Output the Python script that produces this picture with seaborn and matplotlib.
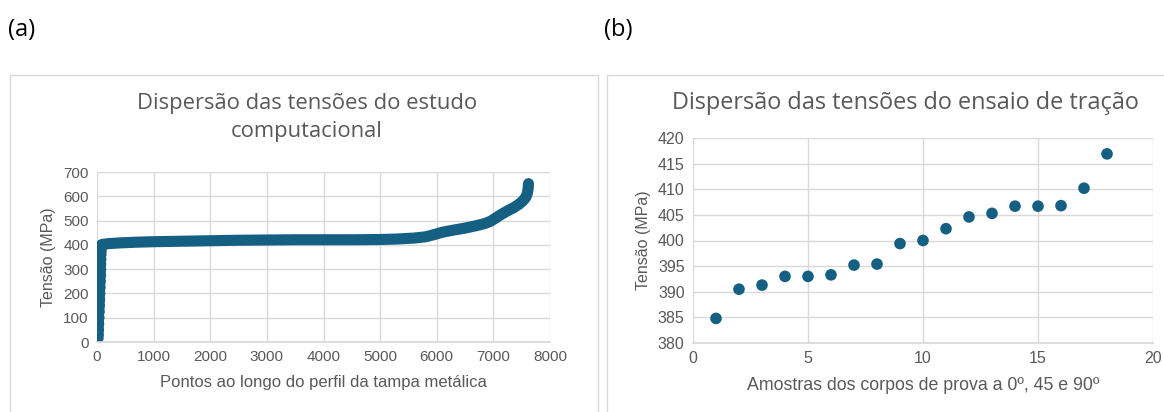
import numpy as np
import pandas as pd
import seaborn as sns
import matplotlib.pyplot as plt
from matplotlib.patches import Rectangle

# =====================================================
# dados
# =====================================================

# (a) estudo computacional: pontos ordenados ao longo do perfil
pontos = [10, 14, 18, 22, 26, 30, 34, 38, 42, 46, 50, 54, 56, 58, 60, 62, 64, 66,
          80, 100, 200, 400, 700, 1000, 1500, 2000, 2500, 3000, 3500, 4000,
          4500, 5000, 5300, 5600, 5800, 5950, 6100, 6300, 6500, 6700, 6850,
          6950, 7050, 7150, 7250, 7350, 7450, 7520, 7570, 7600, 7615, 7620]
tensao_comp = [15, 30, 50, 75, 100, 125, 150, 175, 200, 225, 250, 275, 300,
               320, 340, 360, 375, 390, 398, 402, 405, 408, 411, 413, 415,
               417, 419, 420, 421, 421, 421, 422, 424, 428, 433, 442, 452,
               461, 469, 479, 488, 497, 512, 527, 540, 552, 567, 581, 595,
               612, 635, 652]

# (b) ensaio de tração
amostras = list(range(1, 19))
tensao_ensaio = [384.8, 390.5, 391.3, 393.0, 393.0, 393.3, 395.2, 395.4, 399.4,
                 400.0, 402.3, 404.6, 405.3, 406.7, 406.7, 406.8, 410.2, 416.9]

COR = "#156082"
CINZA = "#595959"
GRADE = "#d9d9d9"

df_a = pd.DataFrame({"x": pontos, "y": tensao_comp})
df_b = pd.DataFrame({"x": amostras, "y": tensao_ensaio})

# =====================================================
# figura
# =====================================================

sns.set_theme(style="whitegrid")
plt.rcParams["font.family"] = ["Liberation Sans", "DejaVu Sans"]

fig = plt.figure(figsize=(11.64, 4.12), dpi=100)

# molduras dos gráficos
fig.patches.append(Rectangle((10 / 1164, -0.01), 588 / 1164, 1.01 - 75 / 412,
                             transform=fig.transFigure, fill=False,
                             edgecolor=GRADE, linewidth=1))
fig.patches.append(Rectangle((607 / 1164, -0.01), 600 / 1164, 1.01 - 75 / 412,
                             transform=fig.transFigure, fill=False,
                             edgecolor=GRADE, linewidth=1))

ax1 = fig.add_axes([97 / 1164, 1 - 342 / 412, 453 / 1164, 170 / 412])
ax2 = fig.add_axes([693 / 1164, 1 - 343 / 412, 460 / 1164, 205 / 412])

# ----- (a) -----
sns.lineplot(data=df_a, x="x", y="y", ax=ax1, color=COR, linewidth=8,
             sort=False, estimator=None)
ax1.lines[0].set_solid_capstyle("round")
ax1.lines[0].set_solid_joinstyle("round")
sns.scatterplot(data=df_a.iloc[:19], x="x", y="y", ax=ax1, color=COR,
                s=75, edgecolor="none")

ax1.set_xlim(0, 8000)
ax1.set_ylim(0, 700)
ax1.set_xticks(range(0, 8001, 1000))
ax1.set_yticks(range(0, 701, 100))

# ----- (b) -----
sns.scatterplot(data=df_b, x="x", y="y", ax=ax2, color=COR, s=70,
                edgecolor="none")
ax2.set_xlim(0, 20)
ax2.set_ylim(380, 420)
ax2.set_xticks(range(0, 21, 5))
ax2.set_yticks(range(380, 421, 5))

for ax in (ax1, ax2):
    ax.set_facecolor("white")
    ax.grid(True, color=GRADE, linewidth=1)
    for s in ax.spines.values():
        s.set_visible(False)
    ax.spines["bottom"].set_visible(True)
    ax.spines["bottom"].set_color(GRADE)
    ax.tick_params(axis="both", labelsize=11, colors=CINZA, length=0, pad=6)
    ax.set_xlabel("")
    ax.set_ylabel("Tensão (MPa)", fontsize=11.5, color=CINZA, labelpad=5)

ax2.tick_params(axis="both", labelsize=11.5)

ax1.set_xlabel("Pontos ao longo do perfil da tampa metálica", fontsize=12,
               color=CINZA, labelpad=8)
ax2.set_xlabel("Amostras dos corpos de prova a 0º, 45 e 90º", fontsize=12.8,
               color=CINZA, labelpad=8)

# títulos
fonte_tit = ["Open Sans", "DejaVu Sans"]
fig.text(307 / 1164, 1 - 103 / 412, "Dispersão das tensões do estudo",
         ha="center", va="center", fontsize=15.8, color=CINZA, family=fonte_tit)
fig.text(307 / 1164, 1 - 131 / 412, "computacional",
         ha="center", va="center", fontsize=15.8, color=CINZA, family=fonte_tit)
fig.text(905 / 1164, 1 - 103 / 412, "Dispersão das tensões do ensaio de tração",
         ha="center", va="center", fontsize=16.9, color=CINZA, family=fonte_tit)

# rótulos (a) e (b)
fig.text(8 / 1164, 1 - 30 / 412, "(a)", ha="left", va="center", fontsize=17,
         color="black", family=fonte_tit)
fig.text(604 / 1164, 1 - 30 / 412, "(b)", ha="left", va="center", fontsize=17,
         color="black", family=fonte_tit)

fig.savefig("out.png", dpi=100, facecolor="white")
